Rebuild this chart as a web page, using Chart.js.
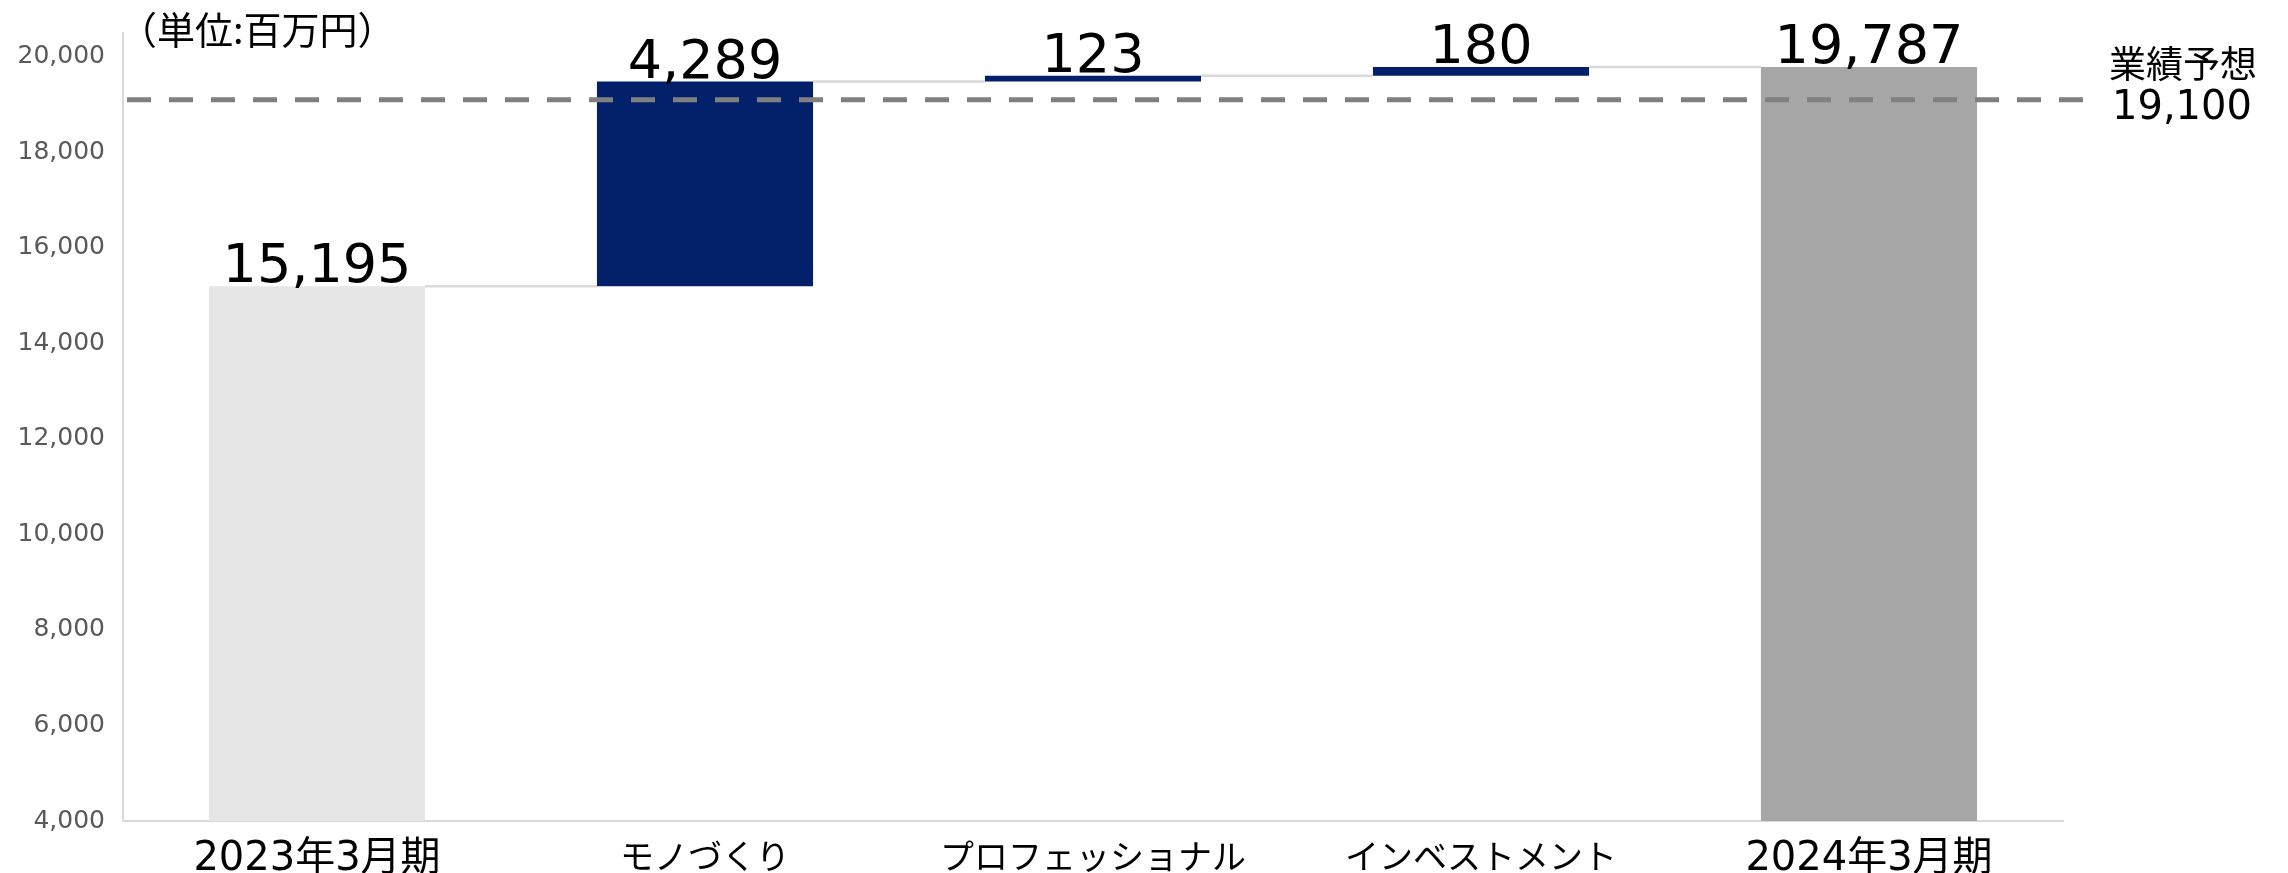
<!DOCTYPE html>
<html>
<head>
<meta charset="utf-8">
<script src="https://cdn.jsdelivr.net/npm/chart.js@4"></script>
<style>
  html, body { margin: 0; padding: 0; background: #ffffff; }
  canvas { display: block; }
</style>
</head>
<body>
<canvas id="chart" width="2288" height="873"></canvas>
<script>
// waterfall: 2023 result -> segment increments -> 2024 result
var categories = ['2023年3月期', 'モノづくり', 'プロフェッショナル', 'インベストメント', '2024年3月期'];
var values = [15195, 4289, 123, 180, 19787];
var kinds = ['total', 'step', 'step', 'step', 'total'];
var yTicks = [4000, 6000, 8000, 10000, 12000, 14000, 16000, 18000, 20000];
var forecastValue = 19100;
var forecastLabel = '業績予想';
var unitLabel = '（単位:百万円）';

var yMin = 4000;
var yMax = 20500;

var NAVY = '#03216a';
var LIGHT = '#e6e6e6';
var DARK = '#a6a6a6';
var LINE = '#d9d9d9';
var NUM_FONT = '"DejaVu Sans", "Noto Sans CJK JP", sans-serif';
var JP_FONT = '"Noto Sans CJK JP", "DejaVu Sans", sans-serif';

// floating ranges built from the values
var ranges = [];
var running = 0;
values.forEach(function(v, i) {
    if (kinds[i] === 'total') {
        ranges.push([yMin, v]);
        running = v;
    } else {
        ranges.push([running, running + v]);
        running += v;
    }
});
var colors = kinds.map(function(k, i) {
    if (k === 'step') return NAVY;
    return i === 0 ? LIGHT : DARK;
});

function fmt(v) {
    return v.toLocaleString('en-US');
}

var waterfallExtras = {
    id: 'waterfallExtras',
    afterDatasetsDraw: function(chart) {
        var ctx = chart.ctx;
        var y = chart.scales.y;
        var area = chart.chartArea;
        var meta = chart.getDatasetMeta(0);

        ctx.save();
        // connector lines between bars
        ctx.strokeStyle = LINE;
        ctx.lineWidth = 2.5;
        for (var i = 0; i < meta.data.length - 1; i++) {
            var a = meta.data[i], b = meta.data[i + 1];
            var py = y.getPixelForValue(ranges[i][1]);
            ctx.beginPath();
            ctx.moveTo(a.x + a.width / 2, py);
            ctx.lineTo(b.x - b.width / 2, py);
            ctx.stroke();
        }

        // forecast dashed line
        var fy = y.getPixelForValue(forecastValue);
        ctx.strokeStyle = '#808080';
        ctx.lineWidth = 5;
        ctx.setLineDash([24, 18]);
        ctx.beginPath();
        ctx.moveTo(area.left + 4, fy);
        ctx.lineTo(area.right + 20, fy);
        ctx.stroke();
        ctx.setLineDash([]);

        // value labels
        ctx.fillStyle = '#000000';
        ctx.font = '54px ' + NUM_FONT;
        ctx.textAlign = 'center';
        ctx.textBaseline = 'alphabetic';
        meta.data.forEach(function(bar, i) {
            ctx.fillText(fmt(values[i]), bar.x, y.getPixelForValue(ranges[i][1]) - 4);
        });

        // forecast label on the right
        ctx.textAlign = 'left';
        ctx.textBaseline = 'middle';
        ctx.font = '37px ' + JP_FONT;
        ctx.fillText(forecastLabel, area.right + 46, fy - 36);
        ctx.font = '40px ' + NUM_FONT;
        ctx.fillText(fmt(forecastValue), area.right + 49, fy + 9);

        // unit label
        ctx.font = '38px ' + JP_FONT;
        ctx.fillText(unitLabel, area.left - 4, 30);
        ctx.restore();
    }
};

var chart = new Chart(document.getElementById('chart').getContext('2d'), {
    type: 'bar',
    data: {
        labels: categories,
        datasets: [{
            data: ranges,
            backgroundColor: colors,
            borderWidth: 0,
            borderSkipped: false,
            barPercentage: 0.557,
            categoryPercentage: 1.0
        }]
    },
    options: {
        responsive: false,
        animation: false,
        devicePixelRatio: 1,
        layout: { padding: { top: 31, right: 225, bottom: 0, left: 0 } },
        plugins: {
            legend: { display: false },
            title: { display: false },
            tooltip: { enabled: false }
        },
        scales: {
            x: {
                grid: { display: false, drawTicks: false },
                border: { display: true, color: LINE, width: 2 },
                ticks: {
                    color: '#000000',
                    padding: 15,
                    font: function(c) {
                        var isYear = c.index === 0 || c.index === 4;
                        return { family: isYear ? NUM_FONT : JP_FONT, size: isYear ? 40 : 34 };
                    }
                },
                afterFit: function(scale) { scale.height = 52; }
            },
            y: {
                min: yMin,
                max: yMax,
                grid: { display: false, drawTicks: false },
                border: { display: true, color: LINE, width: 2 },
                ticks: {
                    color: '#595959',
                    padding: 18,
                    font: { family: NUM_FONT, size: 25 },
                    callback: function(v) { return fmt(v); }
                },
                afterBuildTicks: function(scale) {
                    scale.ticks = yTicks.map(function(v) { return { value: v }; });
                },
                afterFit: function(scale) { scale.width = 123; }
            }
        }
    },
    plugins: [waterfallExtras]
});
</script>
</body>
</html>
